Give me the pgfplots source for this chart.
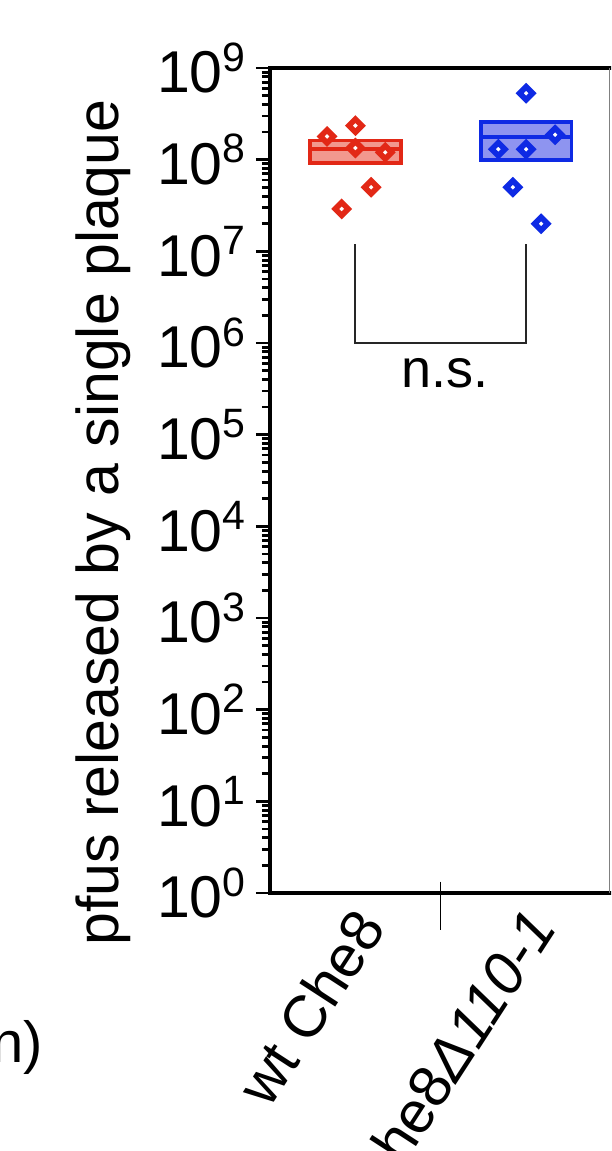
\documentclass[border=0pt]{standalone}
\usepackage{fontspec}
\setmainfont{Liberation Sans}
\usepackage{pgfplots}
\pgfplotsset{compat=1.18}
\definecolor{wtred}{RGB}{226,40,22}
\definecolor{wtfill}{RGB}{242,152,142}
\definecolor{mutblue}{RGB}{14,42,228}
\definecolor{mutfill}{RGB}{142,148,240}
\newcommand{\tp}[1]{10\raisebox{0.37em}{\fontsize{20.5}{20}\selectfont #1}}
\begin{document}
\begin{tikzpicture}[font=\fontsize{29.5}{34}\selectfont]
\path[use as bounding box] (-135pt,-129pt) rectangle (170.5pt,446.5pt);
\clip (-135pt,-129pt) rectangle (170.5pt,446.5pt);
\begin{axis}[
  at={(0,0)}, anchor=south west,
  scale only axis, width=169.75pt, height=412.5pt,
  ymode=log, ymin=1, ymax=1e9,
  xmin=-0.5, xmax=1.488,
  ytick={1,10,100,1000,1e4,1e5,1e6,1e7,1e8,1e9},
  yticklabels={\tp{0},\tp{1},\tp{2},\tp{3},\tp{4},\tp{5},\tp{6},\tp{7},\tp{8},\tp{9}},
  xtick={0,1},
  xticklabels={wt Che8, Che8\textit{Δ110-1}},
  tick align=outside, ytick pos=left, xtick pos=bottom,
  major tick length=7pt, minor tick length=4pt,
  every tick/.style={black, line width=1.4pt},
  xtick style={draw=none},
  axis line style={draw=none},
  yticklabel style={anchor=east, inner sep=0pt, xshift=-5pt},
  xticklabel style={xshift=7.3pt, yshift=-4.7pt, rotate=57, anchor=east, inner sep=0pt},
  ylabel={pfus released by a single plaque},
  ylabel style={at={(axis description cs:-0.4477,0.449)}, anchor=base},
  clip=false,
]
% boxes (mean and spread)
\addplot[draw=wtred, fill=wtfill, line width=1.9pt] coordinates {(-0.265,9.2e7) (0.265,9.2e7) (0.265,1.62e8) (-0.265,1.62e8)} -- cycle;
\addplot[draw=wtred, line width=1.9pt] coordinates {(-0.265,1.32e8) (0.265,1.32e8)};
\addplot[draw=mutblue, fill=mutfill, line width=1.9pt] coordinates {(0.735,1.0e8) (1.265,1.0e8) (1.265,2.57e8) (0.735,2.57e8)} -- cycle;
\addplot[draw=mutblue, line width=1.9pt] coordinates {(0.735,1.76e8) (1.265,1.76e8)};
% individual plaques
\addplot[only marks, mark=square*, mark size=2.3pt, mark options={rotate=45, draw=wtred, fill=white, line width=2.8pt}]
  coordinates {(-0.166,1.79e8) (0,2.35e8) (0,1.34e8) (0.175,1.2e8) (0.092,5.0e7) (-0.08,2.9e7)};
\addplot[only marks, mark=square*, mark size=2.3pt, mark options={rotate=45, draw=mutblue, fill=white, line width=2.8pt}]
  coordinates {(1,5.3e8) (1.17,1.87e8) (0.837,1.30e8) (1,1.30e8) (0.922,5.0e7) (1.088,2.0e7)};
% axis lines
\draw[line width=2pt, line cap=rect] (rel axis cs:1,0) -- (rel axis cs:0,0) -- (rel axis cs:0,1) -- (rel axis cs:1,1);
\draw[line width=0.7pt, gray] (rel axis cs:1,0) -- (rel axis cs:1,1);
\draw[line width=0.7pt] ([yshift=5.65pt]axis cs:0.5,1) -- ([yshift=-18.5pt]axis cs:0.5,1);
% significance bracket
\draw[line width=1pt, black!85] (axis cs:0,1.2e7) -- (axis cs:0,1e6) -- (axis cs:1,1e6) -- (axis cs:1,1.2e7);
\node[anchor=base, inner sep=0pt, font=\fontsize{27}{30}\selectfont] at (axis cs:0.526,3.3e5) {n.s.};
\end{axis}
\node[anchor=base east, inner sep=0pt, font=\fontsize{29}{34}\selectfont] at (-113.5pt,-84.5pt) {n)};
\end{tikzpicture}
\end{document}
